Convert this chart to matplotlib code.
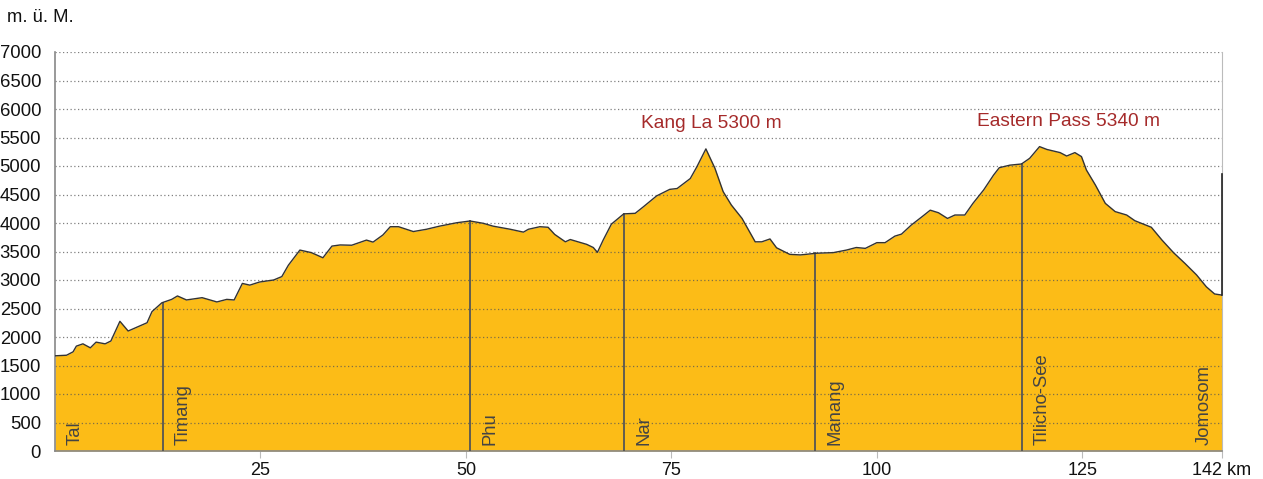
import matplotlib
matplotlib.use("Agg")
import matplotlib.pyplot as plt

# ---- data ----
km = [0.0, 1.4, 2.2, 2.6, 3.4, 4.3, 5.0, 6.1, 6.8, 7.9, 8.9, 11.2, 11.8, 13.0, 14.2, 14.9,
      16.0, 17.9, 19.7, 20.9, 21.8, 22.8, 23.7, 24.9, 26.6, 27.6, 28.4, 29.8, 31.2, 32.6,
      33.7, 34.7, 36.1, 37.9, 38.7, 39.9, 40.8, 41.8, 43.6, 45.2, 46.8, 48.9, 50.5, 52.1,
      53.3, 55.4, 57.0, 57.6, 59.0, 60.0, 60.8, 62.1, 62.7, 64.7, 65.5, 66.0, 66.7, 67.7,
      69.2, 70.6, 71.6, 73.2, 74.8, 75.7, 77.3, 78.1, 79.2, 80.3, 81.3, 82.3, 83.6, 85.2,
      86.0, 87.0, 87.8, 89.4, 90.7, 92.7, 94.7, 96.3, 97.5, 98.6, 100.0, 101.0, 102.2,
      103.0, 104.2, 105.5, 106.5, 107.5, 108.6, 109.5, 110.7, 111.7, 113.0, 114.2, 114.9,
      116.2, 117.6, 118.6, 119.8, 120.7, 122.3, 123.1, 124.1, 124.9, 125.5, 126.6, 127.8,
      129.0, 130.4, 131.4, 133.4, 134.7, 136.1, 137.5, 138.9, 140.1, 141.1, 142.0]
elev = [1670, 1680, 1740, 1840, 1880, 1810, 1910, 1880, 1930, 2275, 2105, 2250, 2445, 2600,
        2660, 2720, 2650, 2690, 2615, 2660, 2650, 2940, 2910, 2965, 3000, 3060, 3260, 3525,
        3480, 3390, 3595, 3615, 3610, 3700, 3665, 3790, 3935, 3935, 3850, 3890, 3945, 4005,
        4035, 3995, 3945, 3890, 3840, 3890, 3935, 3925, 3800, 3670, 3710, 3625, 3570, 3485,
        3700, 3980, 4160, 4170, 4285, 4475, 4590, 4605, 4780, 4985, 5300, 4960, 4550, 4315,
        4080, 3670, 3670, 3720, 3565, 3450, 3440, 3470, 3480, 3525, 3570, 3555, 3655, 3655,
        3770, 3805, 3965, 4110, 4225, 4180, 4080, 4140, 4140, 4345, 4580, 4840, 4970, 5015,
        5035, 5135, 5340, 5290, 5235, 5175, 5235, 5165, 4930, 4665, 4345, 4200, 4140, 4040,
        3925, 3700, 3480, 3290, 3090, 2880, 2755, 2735]

place_names = ["Tal", "Timang", "Phu", "Nar", "Manang", "Tilicho-See", "Jomosom"]
place_km = [0.0, 13.1, 50.5, 69.2, 92.5, 117.7, 142.0]
place_elev = [1670, 2600, 4035, 4160, 3475, 5035, 2735]

pass_names = ["Kang La 5300 m", "Eastern Pass 5340 m"]
pass_km = [79.8, 123.3]
pass_elev = [5300, 5340]

x_ticks = [25, 50, 75, 100, 125, 142]
x_tick_labels = ["25", "50", "75", "100", "125", "142 km"]
y_ticks = list(range(0, 7001, 500))

# ---- style ----
plt.rcParams['font.family'] = ['Liberation Sans', 'DejaVu Sans']
FS = 13.3
fill_col = '#FCBC17'
txt_col = '#444444'

fig = plt.figure(figsize=(12.63, 4.79), dpi=100)
ax = fig.add_axes([55/1263, 1-451/479, (1222-55)/1263, (451-52)/479])

ax.fill_between(km, elev, 0, color=fill_col, zorder=1, linewidth=0)
ax.plot(km, elev, color='#333333', lw=1.0, zorder=4)

for y in y_ticks[1:]:
    ax.axhline(y, color='#555555', lw=0.9, ls=(0, (1, 2)), alpha=0.75, zorder=2)

for name, xk, ye in zip(place_names, place_km, place_elev):
    if 0 < xk < 142:
        ax.plot([xk, xk], [0, ye], color='#555555', lw=1.3, zorder=3)
    if xk >= 142:
        ax.text(xk - 2.2, 110, name, rotation=90, ha='center', va='bottom',
                fontsize=FS, color=txt_col, zorder=5)
    else:
        ax.text(xk + 1.4, 110, name, rotation=90, ha='left', va='bottom',
                fontsize=FS, color=txt_col, zorder=5)

# dark segment at right edge
ax.plot([142, 142], [place_elev[-1], 4860], color='#222222', lw=1.2, zorder=5, clip_on=False)

for name, xk, ye in zip(pass_names, pass_km, pass_elev):
    ax.text(xk, ye + 300, name, ha='center', va='bottom',
            fontsize=FS + 0.5, color='#A52A2A')

ax.set_xlim(0, 142)
ax.set_ylim(0, 7000)
ax.set_yticks(y_ticks)
ax.set_yticklabels([str(v) for v in y_ticks], fontsize=FS, color='#111111')
ax.set_xticks(x_ticks)
ax.set_xticklabels(x_tick_labels, fontsize=FS - 0.3, color='#111111')
ax.tick_params(axis='y', length=0, pad=10)
ax.tick_params(axis='x', length=5, color='#bbbbbb', pad=3)

for s in ['left', 'bottom']:
    ax.spines[s].set_color('#888888')
    ax.spines[s].set_linewidth(1.2)
ax.spines['right'].set_color('#bbbbbb')
ax.spines['top'].set_visible(False)

fig.text(7/1263, 1-18/479, "m. ü. M.", fontsize=FS, color='#111111', va='center', ha='left')

fig.savefig("out.png", dpi=100)
